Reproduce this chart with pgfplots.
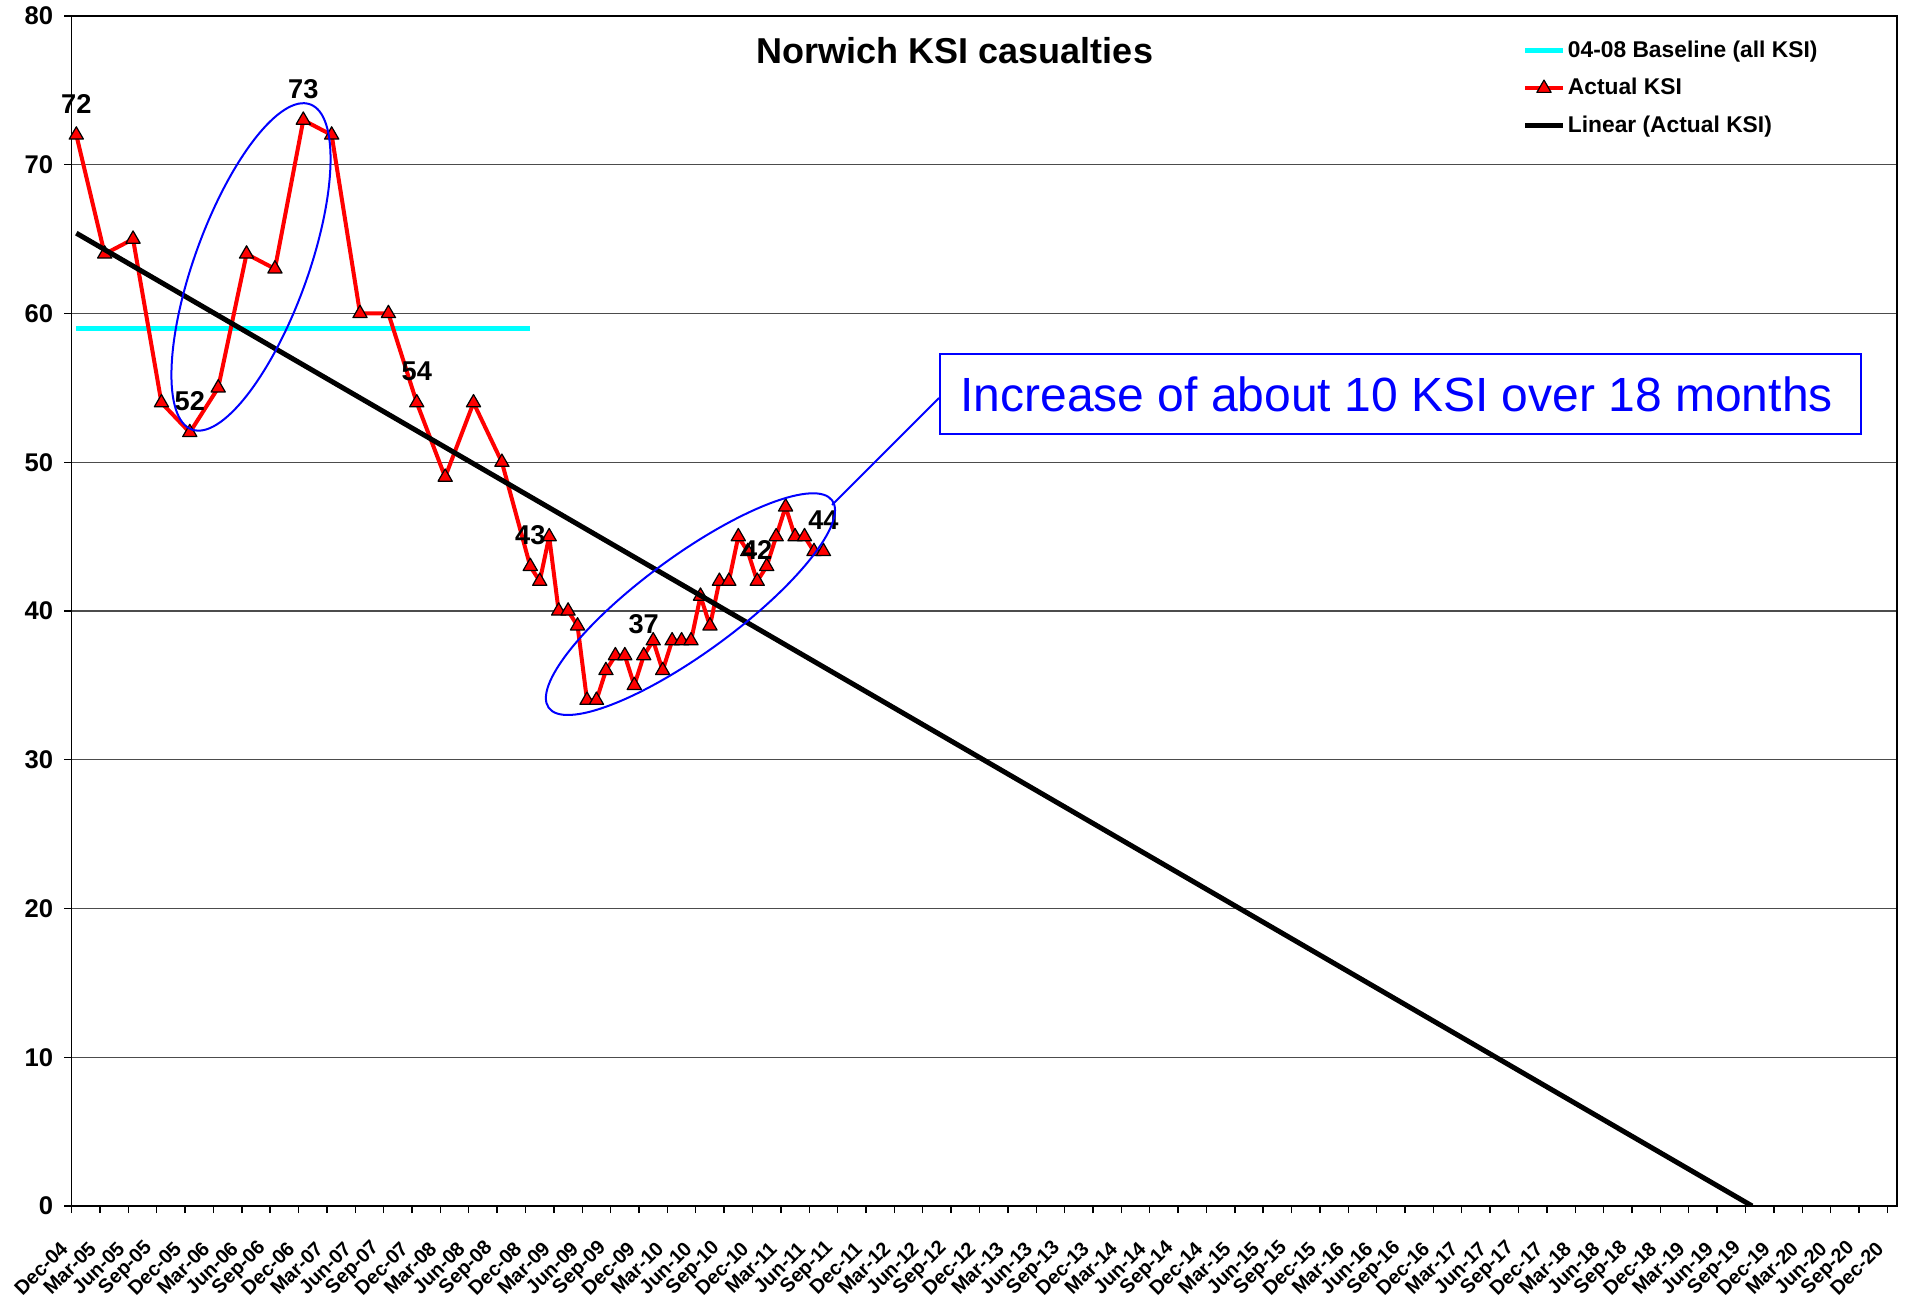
\documentclass[border=0pt]{standalone}
\usepackage{pgfplots}
\pgfplotsset{compat=1.18}
\usepackage{fontspec}
\setmainfont{Liberation Sans}
\definecolor{aqua}{RGB}{0,255,255}
\definecolor{pureblue}{RGB}{0,0,255}
\definecolor{purered}{RGB}{255,0,0}

\begin{document}
\begin{tikzpicture}
\begin{axis}[
  scale only axis,
  width=456.3pt, height=297.5pt,
  xmin=0, xmax=193, ymin=0, ymax=80,
  clip mode=individual,
  axis line style={black, line width=0.4pt},
  ytick={0,10,...,80},
  xtick={0,3,...,192},
  xticklabels={Dec-04,Mar-05,Jun-05,Sep-05,Dec-05,Mar-06,Jun-06,Sep-06,Dec-06,Mar-07,Jun-07,Sep-07,Dec-07,Mar-08,Jun-08,Sep-08,Dec-08,Mar-09,Jun-09,Sep-09,Dec-09,Mar-10,Jun-10,Sep-10,Dec-10,Mar-11,Jun-11,Sep-11,Dec-11,Mar-12,Jun-12,Sep-12,Dec-12,Mar-13,Jun-13,Sep-13,Dec-13,Mar-14,Jun-14,Sep-14,Dec-14,Mar-15,Jun-15,Sep-15,Dec-15,Mar-16,Jun-16,Sep-16,Dec-16,Mar-17,Jun-17,Sep-17,Dec-17,Mar-18,Jun-18,Sep-18,Dec-18,Mar-19,Jun-19,Sep-19,Dec-19,Mar-20,Jun-20,Sep-20,Dec-20},
  tick pos=left,
  tick align=outside,
  major tick length=1.8pt,
  tick style={black, line width=0.35pt},
  ymajorgrids,
  major grid style={black!70, line width=0.3pt},
  /pgf/number format/assume math mode=true,
  yticklabel style={font=\bfseries\fontsize{6.4}{7.5}\selectfont, anchor=east, inner sep=0pt, xshift=-2.6pt},
  xticklabel style={font=\bfseries\fontsize{5.0}{6}\selectfont, xshift=-1.75pt, yshift=-7.9pt, rotate=45, anchor=east, inner sep=0pt},
  legend style={draw=none, fill=none, at={(axis description cs:0.7945,0.9871)}, anchor=north west, inner sep=0pt,
    font=\bfseries\fontsize{5.7}{6.8}\selectfont, nodes={inner xsep=0.6pt, inner ysep=1.55pt}},
  legend cell align=left,
  legend image code/.code={\draw[mark repeat=2,mark phase=2,#1] plot coordinates {(0pt,0pt) (4.75pt,0pt) (9.5pt,0pt)};},
]
\addplot[aqua, line width=1.25pt, no markers] coordinates {(0.5,59) (48.5,59)};
\addlegendentry{\strut 04-08 Baseline (all KSI)}
\addplot[purered, line width=1pt, line join=round, mark=triangle*, mark size=2.05pt,
  mark options={fill=purered, draw=black, line width=0.3pt, solid}] coordinates {
  (0.5,72) (3.5,64) (6.5,65) (9.5,54) (12.5,52) (15.5,55) (18.5,64) (21.5,63)
  (24.5,73) (27.5,72) (30.5,60) (33.5,60) (36.5,54) (39.5,49) (42.5,54) (45.5,50)
  (48.5,43) (49.5,42) (50.5,45) (51.5,40) (52.5,40) (53.5,39) (54.5,34) (55.5,34)
  (56.5,36) (57.5,37) (58.5,37) (59.5,35) (60.5,37) (61.5,38) (62.5,36) (63.5,38)
  (64.5,38) (65.5,38) (66.5,41) (67.5,39) (68.5,42) (69.5,42) (70.5,45) (71.5,44)
  (72.5,42) (73.5,43) (74.5,45) (75.5,47) (76.5,45) (77.5,45) (78.5,44) (79.5,44)
};
\addlegendentry{\strut Actual KSI}
\addplot[black, line width=1.25pt, no markers] coordinates {(0.5,65.40) (177.7,0)};
\addlegendentry{\strut Linear (Actual KSI)}

% data labels
\begin{scope}[every node/.style={font=\bfseries\fontsize{6.8}{8}\selectfont, yshift=7.75pt}]
\node at (axis cs:0.5,72) {72};
\node at (axis cs:12.5,52) {52};
\node at (axis cs:24.5,73) {73};
\node at (axis cs:36.5,54) {54};
\node at (axis cs:48.5,43) {43};
\node at (axis cs:60.5,37) {37};
\node at (axis cs:72.5,42) {42};
\node at (axis cs:79.5,44) {44};
\end{scope}

% annotations
\draw[pureblue, line width=0.5pt, rotate around={70:(axis cs:18.97,63.13)}] (axis cs:18.97,63.13) ellipse [x radius=43.25pt, y radius=14.15pt];
\draw[pureblue, line width=0.5pt, rotate around={36.2:(axis cs:65.44,40.46)}] (axis cs:65.44,40.46) ellipse [x radius=43.9pt, y radius=12.1pt];
\draw[pureblue, line width=0.5pt] (axis cs:80.41,47.13) -- (axis cs:91.73,54.32);
\node[draw=pureblue, line width=0.5pt, fill=white, inner sep=0pt, minimum width=230.3pt, minimum height=20pt, text=pureblue, font=\fontsize{12}{14}\selectfont] at (axis cs:140.53,54.59) {\kern-2pt Increase of about 10 KSI over 18 months};

\node[font=\bfseries\fontsize{9}{10.8}\selectfont] at (axis description cs:0.484,0.9706) {Norwich KSI casualties};
\end{axis}
\pgfresetboundingbox
\useasboundingbox (-17.9pt,-24.25pt) rectangle (459.6pt,301.5pt);
\end{tikzpicture}
\end{document}
